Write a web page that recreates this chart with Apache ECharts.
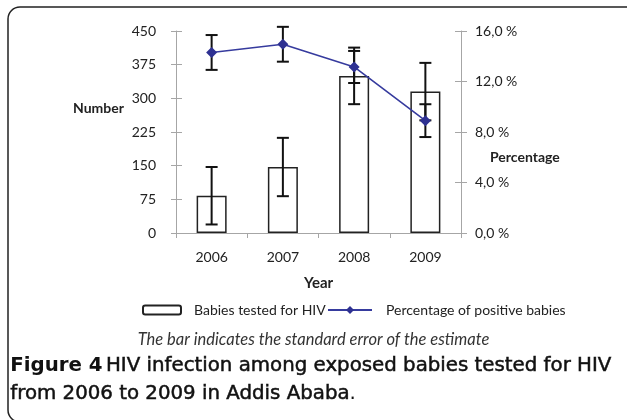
<!DOCTYPE html>
<html>
<head>
<meta charset="utf-8">
<script src="https://cdn.jsdelivr.net/npm/echarts@6/dist/echarts.min.js"></script>
<style>
html,body{margin:0;padding:0;background:#fff;}
#c{width:627px;height:420px;}
</style>
</head>
<body>
<div id="c"></div>
<script>
const years = ['2006', '2007', '2008', '2009'];
const babiesTested = [83, 147, 350, 315];
const babiesSE = [64, 65, 63, 64];
const pctPositive = [14.3, 14.95, 13.15, 8.9];
const pctSE = [1.38, 1.38, 1.27, 1.3];
const leftTicks = [0, 75, 150, 225, 300, 375, 450];
const rightTicks = [0, 4, 8, 12, 16];

const barErr = years.map((y, i) => [i, babiesTested[i] - babiesSE[i], babiesTested[i] + babiesSE[i]]);
const pctErr = years.map((y, i) => [i, pctPositive[i] - pctSE[i], pctPositive[i] + pctSE[i]]);

const FONT = 'Lato';
const AX = '#a6a6a6';

function renderErr(params, api) {
  const lo = api.coord([api.value(0), api.value(1)]);
  const hi = api.coord([api.value(0), api.value(2)]);
  const x = lo[0], h = 6;
  const st = {stroke: '#111', lineWidth: 2};
  return {type: 'group', children: [
    {type: 'line', shape: {x1: x, y1: lo[1], x2: x, y2: hi[1]}, style: st},
    {type: 'line', shape: {x1: x - h, y1: lo[1], x2: x + h, y2: lo[1]}, style: st},
    {type: 'line', shape: {x1: x - h, y1: hi[1], x2: x + h, y2: hi[1]}, style: st}
  ]};
}

const chart = echarts.init(document.getElementById('c'), null, {renderer: 'canvas'});
chart.setOption({
  animation: false,
  textStyle: {fontFamily: FONT},
  grid: {left: 176, right: 166, top: 31, bottom: 187},
  legend: [
    {data: ['Babies tested for HIV'], left: 142, top: 303, itemWidth: 38, itemHeight: 9, padding: 0,
     textStyle: {fontFamily: FONT, fontSize: 14, color: '#222', padding: [0, 0, 0, 8]}},
    {data: ['Percentage of positive babies'], left: 327, top: 303, itemWidth: 44, itemHeight: 10, padding: 0,
     textStyle: {fontFamily: FONT, fontSize: 14, color: '#222', padding: [0, 0, 0, 9]}}
  ],
  xAxis: {
    type: 'category', data: years, boundaryGap: true,
    axisLine: {lineStyle: {color: AX, width: 1}},
    axisTick: {show: true, length: 5, lineStyle: {color: AX}},
    axisLabel: {color: '#222', fontSize: 14, margin: 17, fontFamily: FONT},
    name: 'Year', nameLocation: 'middle', nameGap: 43,
    nameTextStyle: {fontWeight: 'bold', fontSize: 15, color: '#222', fontFamily: FONT}
  },
  yAxis: [
    {type: 'value', min: leftTicks[0], max: leftTicks[leftTicks.length - 1], interval: 75, position: 'left',
     axisLine: {show: true, lineStyle: {color: AX}},
     axisTick: {show: true, length: 5, lineStyle: {color: AX}},
     axisLabel: {color: '#222', fontSize: 14, margin: 20, fontFamily: FONT},
     splitLine: {show: false}},
    {type: 'value', min: rightTicks[0], max: rightTicks[rightTicks.length - 1], interval: 4, position: 'right',
     axisLine: {show: true, lineStyle: {color: AX}},
     axisTick: {show: true, length: 6, lineStyle: {color: AX}},
     axisLabel: {color: '#222', fontSize: 14, margin: 14, fontFamily: FONT,
       formatter: v => v.toFixed(1).replace('.', ',') + ' %'},
     splitLine: {show: false}},
    {type: 'value', min: 0, max: 450, interval: 75, position: 'left',
     axisLine: {show: false}, axisTick: {show: true, inside: true, length: 6, lineStyle: {color: AX}},
     axisLabel: {show: false}, splitLine: {show: false}},
    {type: 'value', min: 0, max: 16, interval: 4, position: 'right',
     axisLine: {show: false}, axisTick: {show: true, inside: true, length: 6, lineStyle: {color: AX}},
     axisLabel: {show: false}, splitLine: {show: false}}
  ],
  series: [
    {name: 'Babies tested for HIV', type: 'bar', yAxisIndex: 0, data: babiesTested, barWidth: 30,
     itemStyle: {color: '#fff', borderColor: '#222', borderWidth: 1.5}, z: 2},
    {name: 'barErr', type: 'custom', yAxisIndex: 0, data: barErr, renderItem: renderErr, z: 3},
    {name: 'pctErr', type: 'custom', yAxisIndex: 1, data: pctErr, renderItem: renderErr, z: 3},
    {name: 'Percentage of positive babies', type: 'line', yAxisIndex: 1, data: pctPositive,
     symbol: 'diamond', symbolSize: 11, lineStyle: {color: '#363b9e', width: 1.6},
     itemStyle: {color: '#2e3192'}, z: 5}
  ],
  graphic: [
    {type: 'rect', shape: {x: 8, y: 7, width: 660, height: 415, r: 12},
     style: {stroke: '#222', lineWidth: 1.5, fill: 'none'}, z: -1},
    {type: 'text', left: 73, top: 101, style: {text: 'Number', fontFamily: FONT, fontWeight: 'bold', fontSize: 14, fill: '#222'}},
    {type: 'text', left: 490, top: 150, style: {text: 'Percentage', fontFamily: FONT, fontWeight: 'bold', fontSize: 14, fill: '#222'}},
    {type: 'text', left: 'center', top: 331, style: {text: 'The bar indicates the standard error of the estimate', fontFamily: FONT, fontStyle: 'italic', fontSize: 16.5, fill: '#333'}},
    {type: 'text', left: 10, top: 352, style: {
      text: '{b|Figure 4} {n|HIV infection among exposed babies tested for HIV}\n{n|from 2006 to 2009 in Addis Ababa}{p|.}',
      lineHeight: 28,
      rich: {
        b: {fontFamily: 'DejaVu Sans', fontWeight: 'bold', fontSize: 19.8, fill: '#111', lineHeight: 28},
        n: {fontFamily: 'DejaVu Sans', fontWeight: 'normal', fontSize: 19.8, fill: '#111', stroke: '#111', lineWidth: 0.5, lineHeight: 28},
        p: {fontFamily: 'DejaVu Sans', fontWeight: 'normal', fontSize: 19.8, fill: '#111', lineHeight: 28}
      }}}
  ]
});
</script>
</body>
</html>
